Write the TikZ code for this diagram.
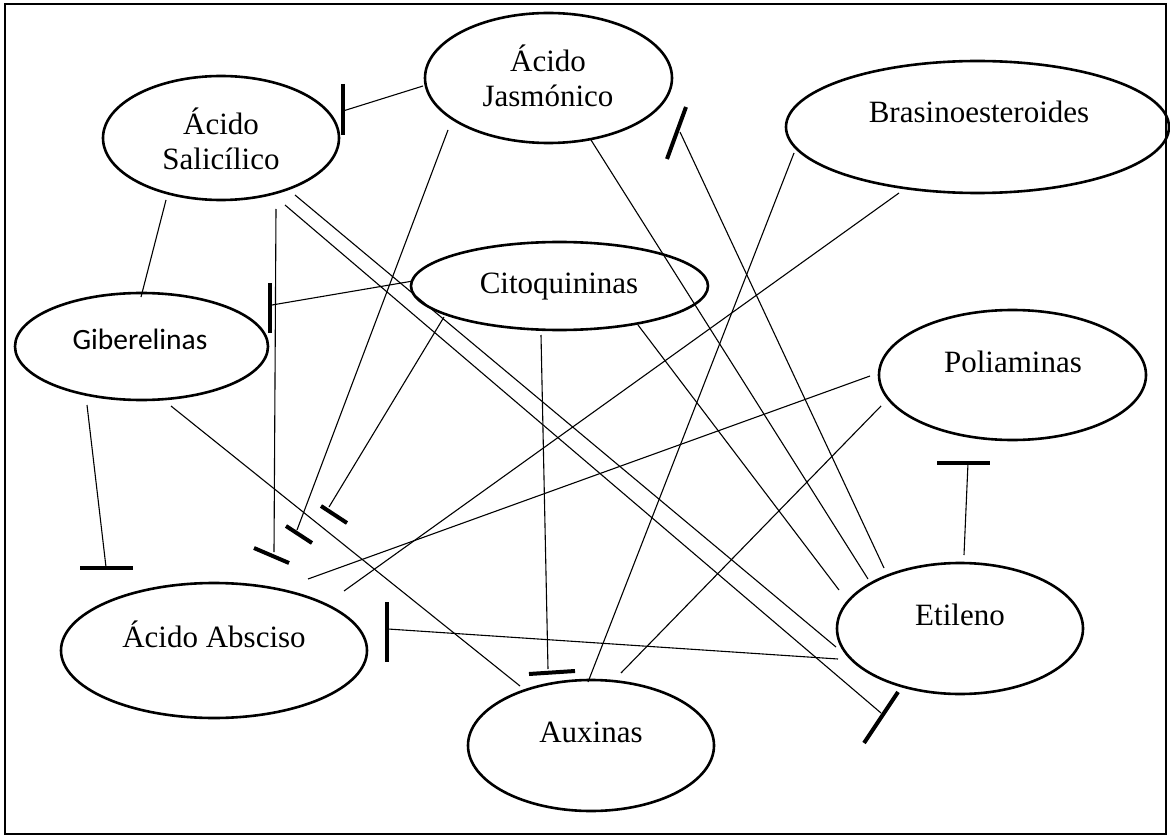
\documentclass[tikz,border=0pt]{standalone}
\usepackage{fontspec}
\setmainfont{Liberation Serif}
\newfontfamily\calibrifont{Carlito}
\usetikzlibrary{shapes.geometric}
\begin{document}
\begin{tikzpicture}[x=1pt,y=-1pt,
  hormone/.style={draw, ellipse, line width=2.6pt, inner sep=0pt},
  link/.style={line width=1.1pt},
  bar/.style={line width=4pt},
  lbl/.style={anchor=base, inner sep=0pt, font=\fontsize{31}{35}\selectfont},
  lblsans/.style={anchor=base, inner sep=0pt, font=\calibrifont\fontsize{29.5}{35}\selectfont}]
\useasboundingbox (0,0) rectangle (1170,837);
\draw[line width=2.6pt] (5,4) rectangle (1166,834);

% hormone ellipses
\node[hormone, minimum width=236pt, minimum height=124pt] (sal) at (221,138) {};
\node[hormone, minimum width=247pt, minimum height=130pt] (jas) at (548.5,78) {};
\node[hormone, minimum width=297pt, minimum height=88pt] (cit) at (559.5,286) {};
\node[hormone, minimum width=253pt, minimum height=107pt] (gib) at (141.5,346.5) {};
\node[hormone, minimum width=383pt, minimum height=132pt] (bra) at (977.5,127) {};
\node[hormone, minimum width=267pt, minimum height=130pt] (pol) at (1012.5,375) {};
\node[hormone, minimum width=306pt, minimum height=135pt] (aba) at (214,650.5) {};
\node[hormone, minimum width=246pt, minimum height=131pt] (aux) at (591,745.5) {};
\node[hormone, minimum width=246pt, minimum height=131pt] (eti) at (960,628.5) {};

% labels
\node[lbl] (salA) at (221,135) {Ácido};
\node[lbl] (salB) at (221,170) {Salicílico};
\node[lbl] (jasA) at (548,72) {Ácido};
\node[lbl] (jasB) at (548,107) {Jasmónico};
\node[lbl] (citT) at (559,293) {Citoquininas};
\node[lblsans] (gibT) at (140,349) {Giberelinas};
\node[lbl] (braT) at (979,123) {Brasinoesteroides};
\node[lbl] (polT) at (1013,372) {Poliaminas};
\node[lbl] (abaT) at (214,647) {Ácido Absciso};
\node[lbl] (auxT) at (591,742) {Auxinas};
\node[lbl] (etiT) at (960,625) {Etileno};

% connector end points
\coordinate (jasS) at (423,86);   \coordinate (salI) at (343,111);
\coordinate (citG) at (413,281);  \coordinate (gibI) at (272,305);
\coordinate (salG) at (166,200);  \coordinate (gibS) at (141,297);
\coordinate (salV) at (276,209);  \coordinate (abaI1) at (274,552);
\coordinate (jasA1) at (448,130); \coordinate (abaI2) at (297,530);
\coordinate (citA) at (444,317);  \coordinate (abaI3) at (329,507);
\coordinate (citX) at (541,335);  \coordinate (auxI) at (548,669);
\coordinate (gibD) at (87,405);   \coordinate (abaI4) at (106,567);
\coordinate (gibX) at (171,406);  \coordinate (auxG) at (520,686);
\coordinate (polA) at (870,376);  \coordinate (abaP) at (308,579);
\coordinate (braA) at (899,193);  \coordinate (abaB) at (344,591);
\coordinate (etiA) at (838,659);  \coordinate (abaI5) at (388,629);
\coordinate (braX) at (794,153);  \coordinate (auxB) at (588,682);
\coordinate (jasE) at (591,140);  \coordinate (etiJ) at (868,579);
\coordinate (etiJ2) at (884,568); \coordinate (jasI) at (680,132);
\coordinate (citE) at (638,325);  \coordinate (etiC) at (839,590);
\coordinate (polX) at (881,406);  \coordinate (auxP) at (621,673);
\coordinate (salE) at (295,195);  \coordinate (etiS) at (836,647);
\coordinate (salE2) at (285,205); \coordinate (etiI) at (881,713);
\coordinate (etiP) at (964,555);  \coordinate (polI) at (968,463);

% connectors
\draw[link] (jasS) -- (salI);
\draw[link] (citG) -- (gibI);
\draw[link] (salG) -- (gibS);
\draw[link] (salV) -- (abaI1);
\draw[link] (jasA1) -- (abaI2);
\draw[link] (citA) -- (abaI3);
\draw[link] (citX) -- (auxI);
\draw[link] (gibD) -- (abaI4);
\draw[link] (gibX) -- (auxG);
\draw[link] (polA) -- (abaP);
\draw[link] (braA) -- (abaB);
\draw[link] (etiA) -- (abaI5);
\draw[link] (braX) -- (auxB);
\draw[link] (jasE) -- (etiJ);
\draw[link] (etiJ2) -- (jasI);
\draw[link] (citE) -- (etiC);
\draw[link] (polX) -- (auxP);
\draw[link] (salE) -- (etiS);
\draw[link] (salE2) -- (etiI);
\draw[link] (etiP) -- (polI);

% inhibition bars
\draw[bar] (343,84) -- (343,135);
\draw[bar] (270,283) -- (270,333);
\draw[bar] (254,548) -- (289,563);
\draw[bar] (286,526) -- (312,543);
\draw[bar] (321,506) -- (347,523);
\draw[bar] (529,674) -- (575,671);
\draw[bar] (80,568) -- (133,568);
\draw[bar] (387,602) -- (387,662);
\draw[bar] (686,107) -- (667,159);
\draw[bar] (898,692) -- (864,743);
\draw[bar] (937,463) -- (990,463);
\end{tikzpicture}
\end{document}
